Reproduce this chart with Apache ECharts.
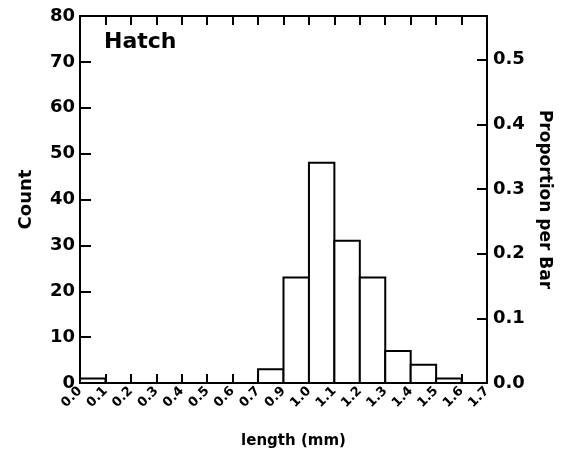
<!DOCTYPE html>
<html>
<head>
<meta charset="utf-8">
<script src="https://cdn.jsdelivr.net/npm/echarts@6/dist/echarts.min.js"></script>
<style>
  html, body { margin: 0; padding: 0; background: #fff; }
  #main { width: 576px; height: 458px; }
</style>
</head>
<body>
<div id="main"></div>
<script>
// bin starts (mm), bin width 0.1
var binStart = [0.0, 0.7, 0.8, 0.9, 1.0, 1.1, 1.2, 1.3, 1.4];
var counts = [1, 3, 23, 48, 31, 23, 7, 4, 1];
// tick labels as printed on the original (0.8 is not shown)
var xLabels = ['0.0','0.1','0.2','0.3','0.4','0.5','0.6','0.7',
               '0.9','1.0','1.1','1.2','1.3','1.4','1.5','1.6','1.7'];
var countTicks = [0, 10, 20, 30, 40, 50, 60, 70, 80];

var total = 0;
for (var i = 0; i < counts.length; i++) total += counts[i];

var data = [];
for (var i = 0; i < binStart.length; i++) {
    data.push([binStart[i], binStart[i] + 0.1, counts[i]]);
}

var font = 'DejaVu Sans';
var black = '#000';

var myChart = echarts.init(document.getElementById('main'));
var option = {
    animation: false,
    backgroundColor: '#fff',
    grid: { left: 80, right: 89, top: 16, bottom: 75 },
    graphic: [{
        type: 'text',
        left: 104,
        top: 31,
        style: { text: 'Hatch', fill: black, font: 'bold 22px "' + font + '"' }
    }],
    xAxis: [{
        type: 'value',
        position: 'bottom',
        min: 0, max: 1.6, interval: 0.1,
        name: 'length (mm)',
        nameLocation: 'middle',
        nameGap: 51,
        nameTextStyle: { color: black, fontFamily: font, fontWeight: 'bold', fontSize: 15, padding: [0, 0, 0, 20] },
        axisLine: { onZero: false, lineStyle: { color: black, width: 2 } },
        axisTick: { inside: true, length: 9, lineStyle: { color: black, width: 2 } },
        splitLine: { show: false },
        axisLabel: {
            rotate: 45, margin: 6,
            color: black, fontFamily: font, fontWeight: 'bold', fontSize: 13,
            formatter: function (v) {
                var k = Math.round(v * 10);
                return xLabels[k] !== undefined ? xLabels[k] : '';
            }
        }
    }, {
        type: 'value',
        position: 'top',
        min: 0, max: 1.6, interval: 0.1,
        axisLine: { onZero: false, lineStyle: { color: black, width: 2 } },
        axisTick: { inside: true, length: 9, lineStyle: { color: black, width: 2 } },
        axisLabel: { show: false },
        splitLine: { show: false }
    }],
    yAxis: [{
        type: 'value',
        position: 'left',
        min: countTicks[0], max: countTicks[countTicks.length - 1], interval: 10,
        name: 'Count',
        nameLocation: 'middle',
        nameGap: 45,
        nameTextStyle: { color: black, fontFamily: font, fontWeight: 'bold', fontSize: 18 },
        axisLine: { show: true, onZero: false, lineStyle: { color: black, width: 2 } },
        axisTick: { show: true, inside: true, length: 11, lineStyle: { color: black, width: 2 } },
        splitLine: { show: false },
        axisLabel: { margin: 5, color: black, fontFamily: font, fontWeight: 'bold', fontSize: 18 }
    }, {
        type: 'value',
        position: 'right',
        min: 0, max: 80 / total, interval: 0.1,
        name: 'Proportion per Bar',
        nameLocation: 'middle',
        nameRotate: -90,
        nameGap: 48,
        nameTextStyle: { color: black, fontFamily: font, fontWeight: 'bold', fontSize: 17 },
        axisLine: { show: true, onZero: false, lineStyle: { color: black, width: 2 } },
        axisTick: { show: true, inside: true, length: 10, lineStyle: { color: black, width: 2 } },
        splitLine: { show: false },
        axisLabel: {
            margin: 6, color: black, fontFamily: font, fontWeight: 'bold', fontSize: 18,
            formatter: function (v) {
                var r = Math.round(v * 10);
                return Math.abs(v * 10 - r) < 1e-6 ? (r / 10).toFixed(1) : '';
            }
        }
    }],
    series: [{
        type: 'custom',
        xAxisIndex: 0,
        yAxisIndex: 0,
        data: data,
        renderItem: function (params, api) {
            var p0 = api.coord([api.value(0), api.value(2)]);
            var p1 = api.coord([api.value(1), 0]);
            return {
                type: 'rect',
                shape: { x: p0[0], y: p0[1], width: p1[0] - p0[0], height: p1[1] - p0[1] },
                style: { fill: '#fff', stroke: black, lineWidth: 2 }
            };
        }
    }]
};
myChart.setOption(option);
</script>
</body>
</html>
